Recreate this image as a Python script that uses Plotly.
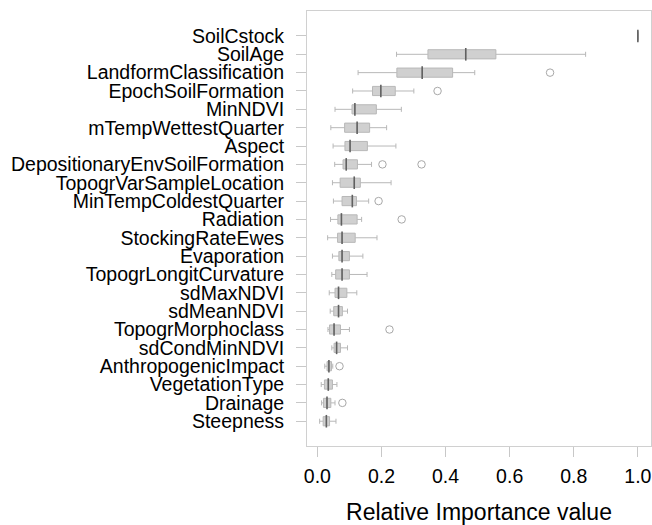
import plotly.graph_objects as go

categories = ["SoilCstock", "SoilAge", "LandformClassification", "EpochSoilFormation",
              "MinNDVI", "mTempWettestQuarter", "Aspect", "DepositionaryEnvSoilFormation",
              "TopogrVarSampleLocation", "MinTempColdestQuarter", "Radiation",
              "StockingRateEwes", "Evaporation", "TopogrLongitCurvature", "sdMaxNDVI",
              "sdMeanNDVI", "TopogrMorphoclass", "sdCondMinNDVI", "AnthropogenicImpact",
              "VegetationType", "Drainage", "Steepness"]

lower = [1.0, 0.247, 0.127, 0.110, 0.055, 0.042, 0.049, 0.054, 0.047, 0.050, 0.041,
         0.032, 0.047, 0.045, 0.037, 0.040, 0.033, 0.045, 0.023, 0.012, 0.013, 0.007]
q1 = [1.0, 0.345, 0.248, 0.172, 0.108, 0.085, 0.086, 0.080, 0.071, 0.077, 0.064,
      0.063, 0.067, 0.057, 0.055, 0.051, 0.038, 0.052, 0.030, 0.022, 0.019, 0.018]
median = [1.0, 0.463, 0.327, 0.198, 0.117, 0.124, 0.102, 0.090, 0.115, 0.109, 0.075,
          0.077, 0.077, 0.077, 0.066, 0.066, 0.052, 0.060, 0.036, 0.034, 0.030, 0.028]
q3 = [1.0, 0.557, 0.422, 0.243, 0.184, 0.163, 0.156, 0.125, 0.134, 0.122, 0.124,
      0.118, 0.100, 0.100, 0.092, 0.078, 0.072, 0.072, 0.044, 0.047, 0.042, 0.038]
upper = [1.0, 0.837, 0.491, 0.301, 0.262, 0.216, 0.245, 0.169, 0.230, 0.160, 0.138,
         0.186, 0.142, 0.155, 0.123, 0.094, 0.100, 0.094, 0.048, 0.061, 0.055, 0.058]

outlier_cat = ["LandformClassification", "EpochSoilFormation",
               "DepositionaryEnvSoilFormation", "DepositionaryEnvSoilFormation",
               "MinTempColdestQuarter", "Radiation", "TopogrMorphoclass",
               "AnthropogenicImpact", "Drainage"]
outlier_val = [0.726, 0.375, 0.203, 0.325, 0.191, 0.263, 0.225, 0.069, 0.078]

tick_vals = [0.0, 0.2, 0.4, 0.6, 0.8, 1.0]
tick_text = ["0.0", "0.2", "0.4", "0.6", "0.8", "1.0"]

FONT = "Liberation Sans, Arial, sans-serif"

fig = go.Figure()
fig.add_trace(go.Box(
    y=categories, orientation="h",
    q1=q1, median=median, q3=q3, lowerfence=lower, upperfence=upper,
    fillcolor="#d0d0d0", line=dict(color="#b8b8b8", width=1),
    width=0.5, whiskerwidth=0.55, boxpoints=False, showlegend=False,
))
fig.add_trace(go.Scatter(
    x=median, y=categories, mode="markers",
    marker=dict(symbol="line-ns-open", size=9, color="#606060",
                line=dict(color="#606060", width=1.6)),
    showlegend=False, hoverinfo="skip",
))
fig.add_trace(go.Scatter(
    x=outlier_val, y=outlier_cat, mode="markers",
    marker=dict(symbol="circle-open", size=7.5, color="#a8a8a8", line=dict(width=1)),
    showlegend=False,
))

fig.update_layout(
    width=652, height=525,
    margin=dict(l=307, r=1, t=11, b=79),
    paper_bgcolor="white", plot_bgcolor="white",
    font=dict(family=FONT, color="black", size=19.5),
)
fig.update_xaxes(
    range=[-0.0324, 1.041], tickvals=tick_vals, ticktext=tick_text,
    showgrid=False, zeroline=False,
    showline=True, mirror=True, linecolor="#d0d0d0", linewidth=1,
    ticks="outside", ticklen=10, tickcolor="#c8c8c8", tickwidth=1,
    tickfont=dict(size=19.5, family=FONT, color="black"),
    ticklabelstandoff=3,
    title=dict(text="Relative Importance value", font=dict(size=23, family=FONT, color="black"),
               standoff=19),
)
fig.update_yaxes(
    type="category", categoryorder="array", categoryarray=categories,
    tickmode="array", tickvals=categories, ticktext=categories,
    range=[22.35, -1.36],
    showgrid=False, zeroline=False,
    showline=True, mirror=True, linecolor="#d0d0d0", linewidth=1,
    ticks="outside", ticklen=10, tickcolor="#c8c8c8", tickwidth=1,
    tickfont=dict(size=19.5, family=FONT, color="black"),
    ticklabelstandoff=8,
)

fig.write_html("out.html")
